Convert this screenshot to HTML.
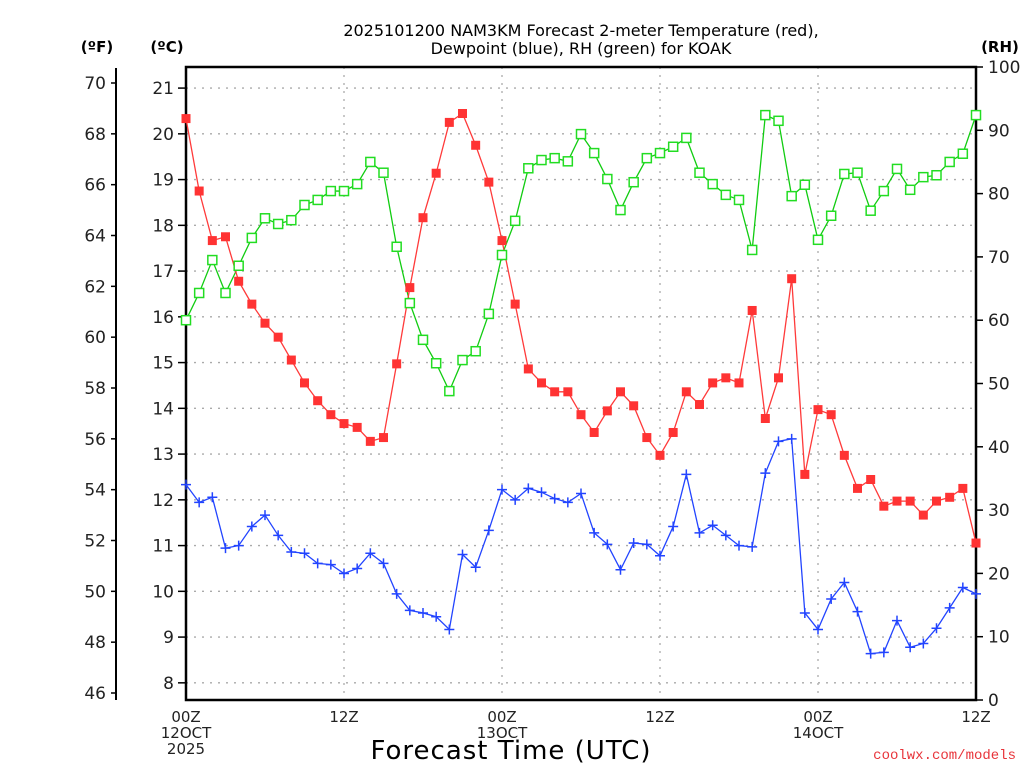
<!DOCTYPE html>
<html><head><meta charset="utf-8">
<style>
html,body{margin:0;padding:0;background:#fff;}
svg{display:block;font-family:"DejaVu Sans","Liberation Sans",sans-serif;}
</style></head>
<body>
<svg id="chart" width="1024" height="768" viewBox="0 0 1024 768" xmlns="http://www.w3.org/2000/svg">
<text x="581" y="36" text-anchor="middle" font-size="16" fill="#000">2025101200 NAM3KM Forecast 2-meter Temperature (red),</text>
<text x="581" y="54" text-anchor="middle" font-size="16" fill="#000">Dewpoint (blue), RH (green) for KOAK</text>
<text x="97" y="52" text-anchor="middle" font-size="15" font-weight="bold">(ºF)</text>
<text x="167" y="52" text-anchor="middle" font-size="15" font-weight="bold">(ºC)</text>
<text x="1000" y="52" text-anchor="middle" font-size="15" font-weight="bold">(RH)</text>
<text x="511" y="759" text-anchor="middle" font-size="26" letter-spacing="1">Forecast Time (UTC)</text>
<text x="1016" y="759" text-anchor="end" font-size="14" fill="#e8343a" font-family="Liberation Mono, monospace">coolwx.com/models</text>
<g id="grid"></g><g id="axes"></g><g id="series"></g>
</svg>
<script>
const hours = [];
for (let i = 0; i <= 60; i++) hours.push(i);
const tempF = [68.6,65.75,63.8,63.95,62.2,61.3,60.55,60.0,59.1,58.2,57.5,56.95,56.6,56.45,55.9,56.05,58.95,61.95,64.7,66.45,68.45,68.8,67.55,66.1,63.8,61.3,58.75,58.2,57.85,57.85,56.95,56.25,57.1,57.85,57.3,56.05,55.35,56.25,57.85,57.35,58.2,58.4,58.2,61.05,56.8,58.4,62.3,54.6,57.15,56.95,55.35,54.05,54.4,53.35,53.55,53.55,53.0,53.55,53.7,54.05,51.9];
const dewF = [54.2,53.5,53.7,51.7,51.8,52.55,53.0,52.2,51.55,51.5,51.1,51.05,50.7,50.9,51.5,51.1,49.9,49.25,49.15,49.0,48.5,51.45,50.95,52.4,54.0,53.6,54.05,53.9,53.65,53.5,53.85,52.3,51.85,50.85,51.9,51.85,51.4,52.55,54.6,52.3,52.6,52.2,51.8,51.75,54.65,55.9,56.0,49.15,48.5,49.7,50.35,49.2,47.55,47.6,48.85,47.8,47.95,48.55,49.35,50.15,49.9];
const rh = [60,64.3,69.5,64.3,68.6,73,76.1,75.2,75.8,78.2,79,80.4,80.4,81.5,85,83.3,71.6,62.7,56.9,53.2,48.8,53.7,55.1,61,70.3,75.7,84,85.3,85.6,85.1,89.4,86.4,82.3,77.4,81.8,85.6,86.4,87.4,88.8,83.3,81.5,79.8,79,71.1,92.4,91.5,79.6,81.4,72.7,76.5,83.1,83.3,77.3,80.4,83.9,80.6,82.6,82.9,85,86.3,92.4];
const fTicks = [46,48,50,52,54,56,58,60,62,64,66,68,70];
const cTicks = [8,9,10,11,12,13,14,15,16,17,18,19,20,21];
const rhTicks = [0,10,20,30,40,50,60,70,80,90,100];
const xTickHours = [0,12,24,36,48,60];
const xTickLabels = [["00Z","12OCT","2025"],["12Z"],["00Z","13OCT"],["12Z"],["00Z","14OCT"],["12Z"]];

const NS="http://www.w3.org/2000/svg";
const L=186,R=976,T=67,B=700;
function xS(h){return L+(h/60)*(R-L);}
function yF(f){return 83+(70-f)*25.4167;}
function yC(c){return yF(c*1.8+32);}
function yRH(v){return B-(v/100)*(B-T);}
function mk(tag,attrs,parent){const e=document.createElementNS(NS,tag);for(const k in attrs)e.setAttribute(k,attrs[k]);parent.appendChild(e);return e;}
const grid=document.getElementById('grid'),axes=document.getElementById('axes'),ser=document.getElementById('series');

cTicks.forEach(c=>{
  const y=yC(c);
  const g=mk('line',{x1:L,x2:R,y1:y,y2:y,stroke:'#aaa','stroke-width':1.3,'stroke-dasharray':'2,6'},grid);
  
  
  const t=mk('line',{x1:L-8,x2:L,y1:y,y2:y,stroke:'#000','stroke-width':1.5},axes);
  
  
  const tx=mk('text',{x:L-12,y:y+6,'text-anchor':'end','font-size':17,fill:'#222'},axes);
  tx.textContent=c;
  
  
});
xTickHours.forEach((h,i)=>{
  const x=xS(h);
  if(h>0&&h<60){
    const g=mk('line',{x1:x,x2:x,y1:T,y2:B,stroke:'#aaa','stroke-width':1.3,'stroke-dasharray':'2,6'},grid);
    
    
  }
  xTickLabels[i].forEach((s,j)=>{
    const tx=mk('text',{x:x,y:722+j*16,'text-anchor':'middle','font-size':15,fill:'#222'},axes);
    tx.textContent=s;
    
    
  });
});
const fAx=mk('line',{x1:116,x2:116,y1:68,y2:700,stroke:'#000','stroke-width':2},axes);


fTicks.forEach(f=>{
  const y=yF(f);
  const t=mk('line',{x1:111,x2:116,y1:y,y2:y,stroke:'#000','stroke-width':1.5},axes);
  
  
  const tx=mk('text',{x:106,y:y+6,'text-anchor':'end','font-size':17,fill:'#222'},axes);
  tx.textContent=f;
  
  
});
rhTicks.forEach(v=>{
  const y=yRH(v);
  const t=mk('line',{x1:R,x2:R+7,y1:y,y2:y,stroke:'#000','stroke-width':1.5},axes);
  
  
  const tx=mk('text',{x:988,y:y+6,'text-anchor':'start','font-size':17,fill:'#222'},axes);
  tx.textContent=v;
  
  
});
const box=mk('rect',{x:L,y:T,width:R-L,height:B-T,fill:'none',stroke:'#000','stroke-width':2.5},axes);



function line(vals,yf,color,name){
  const p=mk('polyline',{points:vals.map((v,i)=>xS(hours[i])+','+yf(v)).join(' '),fill:'none',stroke:color,'stroke-width':1.3},ser);
  
  
}
line(rh,yRH,'#11cc11','rh-line');
line(tempF,yF,'#ff3a3a','temperature-line');
line(dewF,yF,'#2244ff','dewpoint-line');
rh.forEach((v,i)=>{
  const m=mk('rect',{x:xS(hours[i])-4.5,y:yRH(v)-4.5,width:9,height:9,fill:'#fff',stroke:'#22dd22','stroke-width':1.5},ser);
  
  
});
tempF.forEach((v,i)=>{
  const m=mk('rect',{x:xS(hours[i])-4.5,y:yF(v)-4.5,width:9,height:9,fill:'#f33'},ser);
  
  
});
dewF.forEach((v,i)=>{
  const x=xS(hours[i]),y=yF(v);
  const m=mk('path',{d:`M${x-5},${y}H${x+5}M${x},${y-5}V${y+5}`,stroke:'#2244ff','stroke-width':1.5},ser);
  
  
});
</script>
</body></html>
